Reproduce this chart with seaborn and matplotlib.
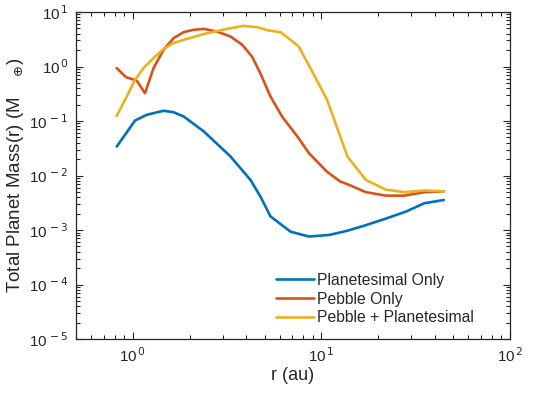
import numpy as np
import pandas as pd
import seaborn as sns
import matplotlib.pyplot as plt
from matplotlib.ticker import FuncFormatter, LogLocator, NullFormatter

# values (r in au, mass in Earth masses)
r_plan = [0.822, 1.028, 1.186, 1.455, 1.644, 1.862, 2.377, 3.296, 4.207, 4.753,
          5.370, 6.871, 8.590, 10.96, 13.74, 16.87, 21.98, 28.18, 35.16, 44.57]
m_plan = [0.034, 0.102, 0.130, 0.154, 0.145, 0.121, 0.0646, 0.0224, 0.0083, 0.0041,
          0.00178, 0.00093, 0.00076, 0.00081, 0.00097, 0.0012, 0.00162, 0.00219, 0.0031, 0.00355]

r_peb = [0.822, 0.920, 1.050, 1.161, 1.288, 1.455, 1.644, 1.862, 2.099, 2.377,
         2.799, 3.296, 3.802, 4.295, 4.753, 5.370, 6.194, 7.447, 8.590, 10.72,
         12.59, 13.74, 17.22, 21.98, 27.54, 35.16, 44.57]
m_peb = [0.933, 0.638, 0.550, 0.324, 0.933, 2.02, 3.31, 4.27, 4.71, 4.90,
         4.37, 3.55, 2.51, 1.51, 0.741, 0.282, 0.120, 0.0525, 0.0257, 0.0117,
         0.00776, 0.00692, 0.00495, 0.00427, 0.00427, 0.00495, 0.00513]

r_both = [0.822, 0.929, 1.028, 1.138, 1.288, 1.455, 1.644, 1.862, 2.377, 3.162,
          3.873, 4.571, 5.260, 6.081, 7.586, 9.120, 10.72, 13.74, 17.22, 21.98,
          27.54, 35.16, 44.57]
m_both = [0.124, 0.282, 0.570, 0.933, 1.43, 2.09, 2.69, 3.09, 3.94, 4.90,
          5.58, 5.25, 4.57, 4.27, 2.33, 0.708, 0.245, 0.0224, 0.0083, 0.0055,
          0.00495, 0.00531, 0.00513]

labels = ["Planetesimal Only", "Pebble Only", "Pebble + Planetesimal"]
colors = ["#0072BD", "#D95319", "#EDB120"]
xticks = [1, 10, 100]
yticks = [1e-5, 1e-4, 1e-3, 1e-2, 1e-1, 1, 10]

sns.set_style("ticks")
plt.rcParams['font.family'] = ['Liberation Sans', 'DejaVu Sans']
plt.rcParams['axes.edgecolor'] = '#262626'
plt.rcParams['xtick.color'] = '#262626'
plt.rcParams['ytick.color'] = '#262626'

fig = plt.figure(figsize=(5.33, 3.96), dpi=100)
ax = fig.add_axes([0.1426, 0.1439, 0.8142, 0.8258])

for rr, mm, lab, col in zip([r_plan, r_peb, r_both], [m_plan, m_peb, m_both], labels, colors):
    df = pd.DataFrame({"r": rr, "m": mm})
    sns.lineplot(data=df, x="r", y="m", ax=ax, color=col, linewidth=1.9, label=lab)

ax.set_xscale('log')
ax.set_yscale('log')
ax.set_xlim(0.5, 100)
ax.set_ylim(1e-5, 10)

fmt = FuncFormatter(lambda v, p: '10$^{\\,%d}$' % int(round(np.log10(v))))
ax.set_xticks(xticks)
ax.set_yticks(yticks)
ax.xaxis.set_minor_locator(LogLocator(base=10, subs=np.arange(2, 10), numticks=20))
ax.yaxis.set_minor_locator(LogLocator(base=10, subs=np.arange(2, 10), numticks=20))
ax.xaxis.set_major_formatter(fmt)
ax.yaxis.set_major_formatter(fmt)
ax.xaxis.set_minor_formatter(NullFormatter())
ax.yaxis.set_minor_formatter(NullFormatter())

ax.tick_params(which='both', direction='in', top=True, right=True, labelsize=11, width=0.8)
ax.tick_params(which='major', length=5, pad=5)
ax.tick_params(which='minor', length=3)
for s in ax.spines.values():
    s.set_linewidth(0.9)

ax.set_xlabel("r (au)", fontsize=13, labelpad=2)
ax.set_ylabel("Total Planet Mass(r) (M    $_{\\oplus}$)", fontsize=13.5, labelpad=2)

ax.legend(loc='upper left', bbox_to_anchor=(0.462, 0.203), frameon=False, fontsize=11.3,
          borderpad=0, borderaxespad=0, handlelength=2.4, handletextpad=0.2,
          labelspacing=0.25)

fig.savefig("out.png", dpi=100)
